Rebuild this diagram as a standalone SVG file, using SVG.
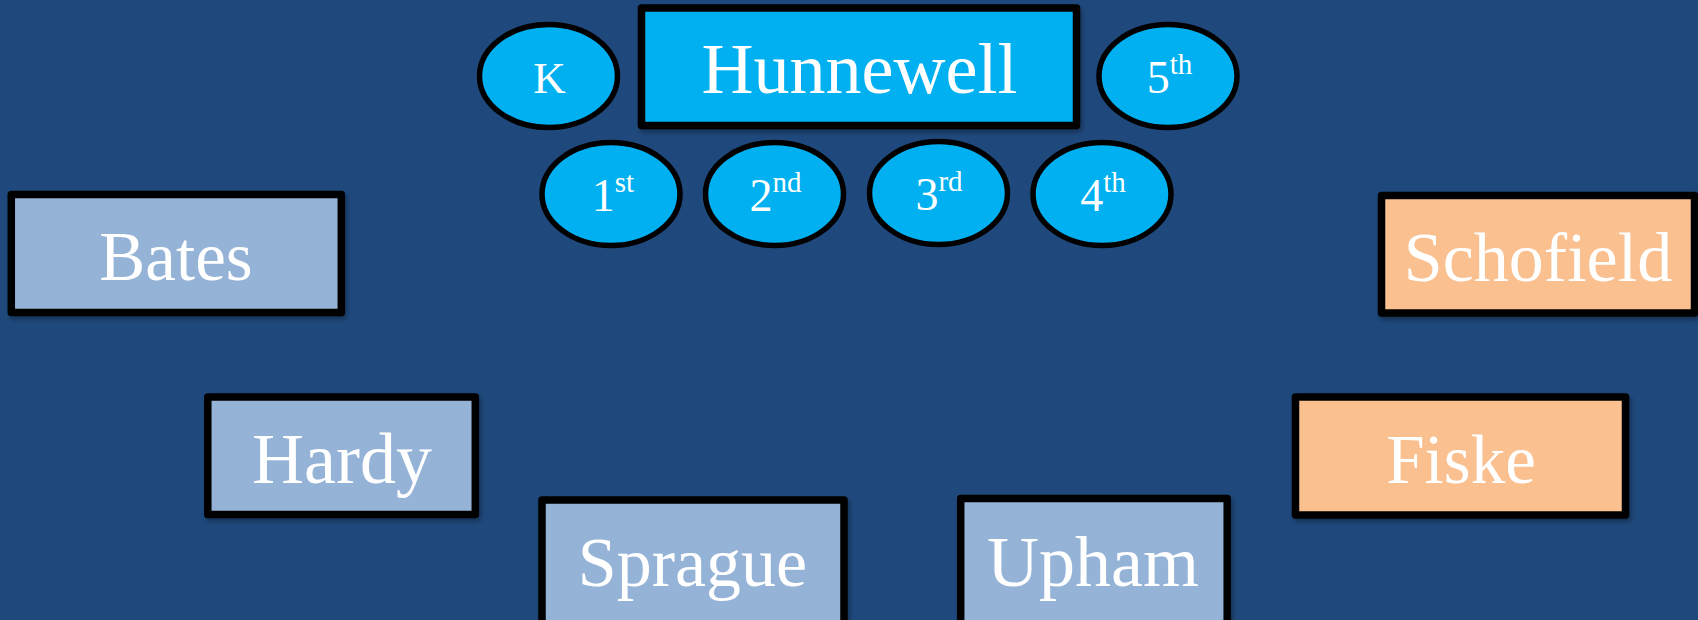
<svg xmlns="http://www.w3.org/2000/svg" width="1698" height="620" viewBox="0 0 1698 620">
<style>
.box{stroke:#000;stroke-width:7.5;stroke-linejoin:round;filter:url(#sh)}
.blue{fill:#95B3D7}
.peach{fill:#FAC090}
.cyan{fill:#00B0F0}
.ov{fill:#00B0F0;stroke:#000;stroke-width:5.5}
.lbl{font-family:"Liberation Serif","Times New Roman",serif;fill:#fff;text-anchor:middle}
.big{font-size:72px}
.sm{font-size:46px}
.sup{font-size:29px}
</style>
<defs>
<filter id="sh" x="-10%" y="-10%" width="125%" height="130%">
<feDropShadow dx="2" dy="3" stdDeviation="2.5" flood-color="#000" flood-opacity="0.35"/>
</filter>
</defs>
<rect width="1698" height="620" fill="#1F497D"/>
<g id="connectors"/>
<g id="hunnewell">
<rect class="box cyan" x="641.5" y="8" width="435" height="117.5"/>
<text class="lbl big" x="859.5" y="93">Hunnewell</text>
</g>
<g id="k">
<ellipse class="ov" cx="548.5" cy="76" rx="69" ry="51.5"/>
<text class="lbl" style="font-size:45px" x="549.5" y="93">K</text>
</g>
<g id="g5">
<ellipse class="ov" cx="1168" cy="76" rx="69" ry="51.5"/>
<text class="lbl sm" x="1169.5" y="93">5<tspan class="sup" dy="-19">th</tspan></text>
</g>
<g id="g1">
<ellipse class="ov" cx="611" cy="194" rx="69" ry="51.5"/>
<text class="lbl sm" x="613" y="211">1<tspan class="sup" dy="-19">st</tspan></text>
</g>
<g id="g2">
<ellipse class="ov" cx="774.5" cy="194" rx="69" ry="51.5"/>
<text class="lbl sm" x="775.5" y="211">2<tspan class="sup" dy="-19">nd</tspan></text>
</g>
<g id="g3">
<ellipse class="ov" cx="938.5" cy="193" rx="69" ry="51.5"/>
<text class="lbl sm" x="939" y="210">3<tspan class="sup" dy="-19">rd</tspan></text>
</g>
<g id="g4">
<ellipse class="ov" cx="1102" cy="194" rx="69" ry="51.5"/>
<text class="lbl sm" x="1103" y="211">4<tspan class="sup" dy="-19">th</tspan></text>
</g>
<g id="bates">
<rect class="box blue" x="11.3" y="194.5" width="330" height="118"/>
<text class="lbl" style="font-size:69px" x="176" y="280">Bates</text>
</g>
<g id="hardy">
<rect class="box blue" x="207.8" y="397" width="267.5" height="117.5"/>
<text class="lbl big" x="342" y="483">Hardy</text>
</g>
<g id="schofield">
<rect class="box peach" x="1381.5" y="195.5" width="313" height="117.5"/>
<text class="lbl" style="font-size:70px" x="1538" y="280.5">Schofield</text>
</g>
<g id="fiske">
<rect class="box peach" x="1295.5" y="397" width="330" height="118"/>
<text class="lbl" style="font-size:69px" x="1461" y="483">Fiske</text>
</g>
<g id="sprague">
<rect class="box blue" x="542" y="500" width="302" height="130"/>
<text class="lbl" style="font-size:70px" x="692.5" y="586">Sprague</text>
</g>
<g id="upham">
<rect class="box blue" x="960.7" y="498.5" width="266.5" height="130"/>
<text class="lbl big" x="1093" y="586">Upham</text>
</g>
</svg>
